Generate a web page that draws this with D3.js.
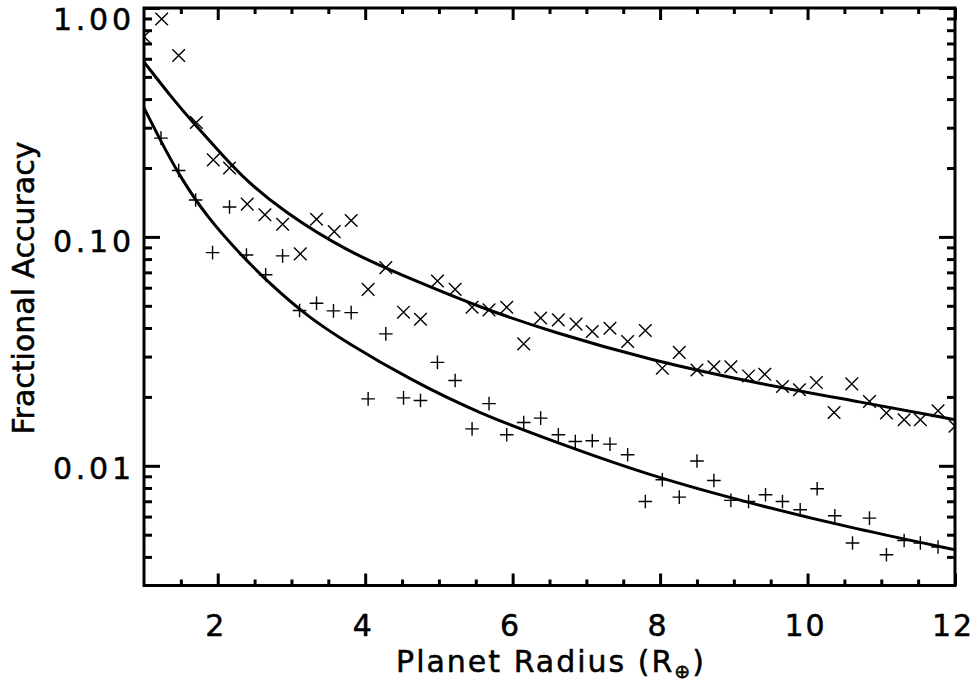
<!DOCTYPE html>
<html>
<head>
<meta charset="utf-8">
<script src="https://cdn.jsdelivr.net/npm/d3@7"></script>
<style>
  html, body { margin: 0; padding: 0; background: #fff; }
  svg { display: block; }
  text { font-family: "DejaVu Sans", "Liberation Sans", sans-serif; fill: #000; stroke: #000; stroke-width: 0.5px; }
</style>
</head>
<body>
<svg id="chart" width="980" height="685"></svg>
<script>
// ---------- data ----------
const crossX = [1.00,1.24,1.47,1.71,1.94,2.16,2.40,2.64,2.88,3.12,3.34,3.58,3.81,4.04,4.28,4.52,4.75,4.98,5.22,5.45,5.68,5.92,6.15,6.38,6.62,6.86,7.08,7.32,7.56,7.80,8.03,8.26,8.50,8.73,8.96,9.20,9.42,9.66,9.89,10.12,10.36,10.60,10.84,11.07,11.31,11.53,11.77,12.00];
const crossY = [0.75,0.895,0.62,0.316,0.217,0.200,0.139,0.125,0.1136,0.0843,0.1195,0.1055,0.118,0.059,0.0734,0.0469,0.0437,0.0642,0.059,0.0493,0.048,0.0493,0.0341,0.0442,0.0434,0.0416,0.0386,0.0399,0.0349,0.039,0.0267,0.0313,0.0262,0.0271,0.0271,0.0247,0.0251,0.0222,0.0215,0.0231,0.0171,0.0228,0.0191,0.0170,0.0159,0.0159,0.0174,0.0149];

const plusX = [1.23,1.47,1.70,1.93,2.16,2.39,2.65,2.88,3.11,3.34,3.57,3.81,4.04,4.28,4.52,4.75,4.98,5.22,5.45,5.68,5.92,6.15,6.38,6.62,6.85,7.08,7.32,7.56,7.80,8.03,8.26,8.50,8.73,8.96,9.20,9.43,9.66,9.90,10.13,10.37,10.61,10.84,11.07,11.31,11.53,11.77];
const plusY = [0.270,0.195,0.145,0.0854,0.135,0.0834,0.0683,0.0826,0.0477,0.0513,0.0475,0.0467,0.0196,0.0377,0.0198,0.0193,0.0283,0.0236,0.0145,0.0187,0.01366,0.01546,0.01615,0.01366,0.01277,0.01286,0.01244,0.01117,0.00698,0.00869,0.0073,0.0105,0.00863,0.00706,0.00698,0.00747,0.00698,0.00643,0.00794,0.00605,0.0046,0.00591,0.00409,0.00472,0.0046,0.00442];

const upperFitX = [1.00,1.39,1.66,1.94,2.30,2.89,3.79,4.62,5.53,6.57,7.86,9.35,10.64,12.00];
const upperFitY = [0.581,0.4006,0.3178,0.2522,0.1866,0.1286,0.0851,0.0656,0.0495,0.0381,0.0290,0.0228,0.0192,0.0159];
const lowerFitX = [1.00,1.22,1.49,1.85,2.30,2.75,3.21,3.73,4.63,5.53,6.57,7.86,9.35,10.64,12.00];
const lowerFitY = [0.366,0.265,0.1828,0.1227,0.0843,0.0605,0.0452,0.0348,0.0236,0.01703,0.01273,0.00904,0.00669,0.00531,0.0043];

const xMajorTicks = [2,4,6,8,10,12];
const xMinorTicks = [1.5,2.5,3,3.5,4.5,5,5.5,6.5,7,7.5,8.5,9,9.5,10.5,11,11.5];
const yMajorTicks = [1, 0.1, 0.01];
const yMajorLabels = ["1.00", "0.10", "0.01"];
const yMinorTicks = [0.9,0.8,0.7,0.6,0.5,0.4,0.3,0.2,0.09,0.08,0.07,0.06,0.05,0.04,0.03,0.02,0.009,0.008,0.007,0.006,0.005,0.004];
const xTitle = "Planet Radius (R";
const xTitleSub = "⊕";
const yTitle = "Fractional Accuracy";

// ---------- layout ----------
const L = 144, R = 955, T = 8, B = 585.5;
const svg = d3.select("#chart");
svg.append("rect").attr("width", 980).attr("height", 685).attr("fill", "#fff");

const x = d3.scaleLinear().domain([1, 12]).range([L, R]);
const y = d3.scaleLog().domain([0.003, 1]).range([B, T]);

svg.append("clipPath").attr("id", "clip").append("rect")
  .attr("x", L).attr("y", T).attr("width", R - L).attr("height", B - T);
const plot = svg.append("g").attr("clip-path", "url(#clip)");

// fitted curves
const line = d3.line().x(d => x(d[0])).y(d => y(d[1])).curve(d3.curveBasis);
plot.append("path").datum(upperFitX.map((v, i) => [v, upperFitY[i]]))
  .attr("d", line).attr("fill", "none").attr("stroke", "#000").attr("stroke-width", 3);
plot.append("path").datum(lowerFitX.map((v, i) => [v, lowerFitY[i]]))
  .attr("d", line).attr("fill", "none").attr("stroke", "#000").attr("stroke-width", 3);

// markers
const s = 6.3;
plot.append("g").selectAll("path").data(crossX.map((v, i) => [v, crossY[i]])).join("path")
  .attr("d", d => { const cx = x(d[0]), cy = y(d[1]);
    return `M${cx - s},${cy - s}L${cx + s},${cy + s}M${cx - s},${cy + s}L${cx + s},${cy - s}`; })
  .attr("stroke", "#000").attr("stroke-width", 1.4).attr("fill", "none");
const p = 6.8;
plot.append("g").selectAll("path").data(plusX.map((v, i) => [v, plusY[i]])).join("path")
  .attr("d", d => { const cx = x(d[0]), cy = y(d[1]);
    return `M${cx - p},${cy}L${cx + p},${cy}M${cx},${cy - p}L${cx},${cy + p}`; })
  .attr("stroke", "#000").attr("stroke-width", 1.4).attr("fill", "none");

// ticks (inward, on all four sides)
function tickStyle(g, w) {
  g.select(".domain").remove();
  g.selectAll(".tick line").attr("stroke", "#000").attr("stroke-width", w);
  g.selectAll(".tick text").remove();
}
svg.append("g").attr("transform", `translate(0,${B})`)
  .call(d3.axisTop(x).tickValues(xMajorTicks).tickSize(12)).call(g => tickStyle(g, 3));
svg.append("g").attr("transform", `translate(0,${B})`)
  .call(d3.axisTop(x).tickValues(xMinorTicks).tickSize(6)).call(g => tickStyle(g, 3));
svg.append("g").attr("transform", `translate(0,${T})`)
  .call(d3.axisBottom(x).tickValues(xMajorTicks).tickSize(12)).call(g => tickStyle(g, 3));
svg.append("g").attr("transform", `translate(0,${T})`)
  .call(d3.axisBottom(x).tickValues(xMinorTicks).tickSize(6)).call(g => tickStyle(g, 3));
svg.append("g").attr("transform", `translate(${L},0)`)
  .call(d3.axisRight(y).tickValues(yMajorTicks).tickSize(16)).call(g => tickStyle(g, 3));
svg.append("g").attr("transform", `translate(${L},0)`)
  .call(d3.axisRight(y).tickValues(yMinorTicks).tickSize(8)).call(g => tickStyle(g, 3));
svg.append("g").attr("transform", `translate(${R},0)`)
  .call(d3.axisLeft(y).tickValues(yMajorTicks).tickSize(16)).call(g => tickStyle(g, 3));
svg.append("g").attr("transform", `translate(${R},0)`)
  .call(d3.axisLeft(y).tickValues(yMinorTicks).tickSize(8)).call(g => tickStyle(g, 3));

// frame
svg.append("rect").attr("x", L).attr("y", T).attr("width", R - L).attr("height", B - T)
  .attr("fill", "none").attr("stroke", "#000").attr("stroke-width", 3);

// tick labels
svg.append("g").selectAll("text").data(xMajorTicks).join("text")
  .attr("x", d => x(d) - 2).attr("y", 636).attr("text-anchor", "middle")
  .attr("font-size", 30).attr("letter-spacing", 2).text(d => d);
svg.append("g").selectAll("text").data(yMajorTicks).join("text")
  .attr("x", 131).attr("y", (d, i) => [30, 252, 479][i]).attr("text-anchor", "end")
  .attr("font-size", 30).attr("textLength", 78).attr("lengthAdjust", "spacing")
  .text((d, i) => yMajorLabels[i]);

// titles
const xt = svg.append("text").attr("x", 551).attr("y", 672).attr("text-anchor", "middle")
  .attr("font-size", 30).attr("letter-spacing", 2);
xt.append("tspan").text(xTitle);
xt.append("tspan").attr("font-size", 19).attr("dy", 6).text(xTitleSub);
xt.append("tspan").attr("dy", -6).text(")");

svg.append("text").attr("transform", "translate(34,288) rotate(-90)")
  .attr("text-anchor", "middle").attr("font-size", 30).text(yTitle);
</script>
</body>
</html>
